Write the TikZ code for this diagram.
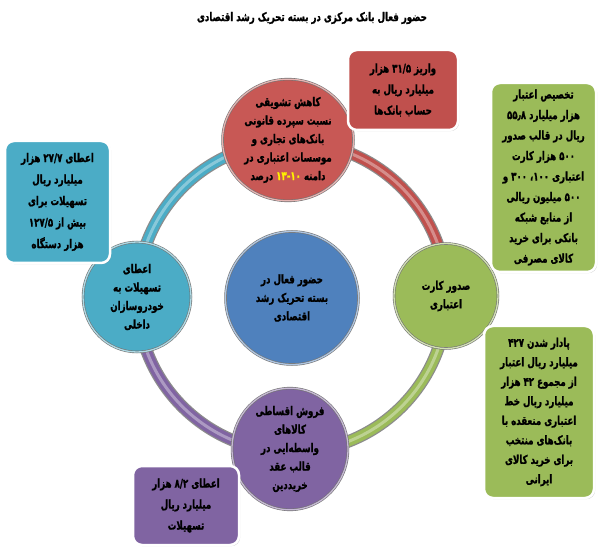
\documentclass[tikz,border=0pt]{standalone}
\usepackage{fontspec}
\usetikzlibrary{shapes.geometric,shadows}
\newfontfamily\fa[Script=Arabic, FakeStretch=0.72, FakeBold=1.2]{DejaVu Sans Bold}
\TeXXeTstate=1
\newcommand\rtl[1]{\beginR #1\endR}
\newcommand\ltr[1]{\beginL #1\endL}
\definecolor{cred}{RGB}{192,80,77}
\definecolor{credc}{RGB}{200,88,85}
\definecolor{cgreen}{RGB}{155,187,89}
\definecolor{ccyan}{RGB}{75,172,198}
\definecolor{cpurple}{RGB}{128,100,162}
\definecolor{cblue}{RGB}{79,129,189}
\tikzset{
  txt/.style={font=\fa\fontsize{12}{21}\selectfont, align=center, text=black},
  box/.style={txt, rectangle, rounded corners=9pt, draw=white, line width=2.5pt, inner sep=0pt,
    fill=#1, drop shadow={opacity=0.35, shadow xshift=1.2pt, shadow yshift=-1.2pt}},
  circ/.style={txt, font=\fa\fontsize{12}{18.5}\selectfont, ellipse, inner sep=0pt,
    fill=#1, draw=black!55, line width=0.6pt, double=#1!45!white, double distance=1.3pt},
  ringout/.style={line width=12.5pt, draw=black!45},
  ringin/.style={line width=10pt, draw=#1},
  ringhi/.style={line width=3pt, draw=white, opacity=0.35},
}
\begin{document}
\begin{tikzpicture}[x=1pt,y=-1pt]
\useasboundingbox (0,0) rectangle (600,553);
\fill[white] (0,0) rectangle (600,553);
\node[txt, font=\fa\fontsize{12}{14}\selectfont] (title) at (312,18)
  {\rtl{حضور فعال بانک مرکزی در بسته تحریک رشد اقتصادی}};
% ring
\coordinate (rc) at (292,297);
\foreach \a/\b/\c in {-90/0/cred, 0/90/cgreen, 90/180/cpurple, 180/270/ccyan}{
  \draw[ringout] (rc) ++(\a:155) arc[start angle=\a, end angle=\b, radius=155];
  \draw[ringin=\c] (rc) ++(\a:155) arc[start angle=\a, end angle=\b, radius=155];
  \draw[ringhi] (rc) ++(\a:155) arc[start angle=\a, end angle=\b, radius=155];
}
% circles
\node[circ=credc, minimum width=131, minimum height=98] (redc) at (288,140)
  {\rtl{کاهش تشویقی}\\\rtl{نسبت سپرده قانونی}\\\rtl{بانک‌های تجاری و}\\\rtl{موسسات اعتباری در}\\\rtl{درصد} \textcolor{yellow}{۱۳\kern0pt-\kern0pt۱۰} \rtl{دامنه}};
\node[circ=cblue, minimum width=133, minimum height=133] (bluec) at (292,298)
  {\rtl{حضور فعال در}\\\rtl{بسته تحریک رشد}\\\rtl{اقتصادی}};
\node[circ=ccyan, minimum width=108, minimum height=110] (cyanc) at (137,297)
  {\rtl{اعطای}\\\rtl{تسهیلات به}\\\rtl{خودروسازان}\\\rtl{داخلی}};
\node[circ=cgreen, minimum width=104, minimum height=105] (greenc) at (446,296)
  {\rtl{صدور کارت}\\\rtl{اعتباری}};
\node[circ=cpurple, minimum width=116, minimum height=108] (purplec) at (290,449)
  {\rtl{فروش اقساطی}\\\rtl{کالاهای}\\\rtl{واسطه‌ایی در}\\\rtl{قالب عقد}\\\rtl{خریددین}};
% boxes
\node[box=cred, minimum width=110, minimum height=80] (redbox) at (403,90)
  {\rtl{واریز \ltr{۳۱/۵} هزار}\\\rtl{میلیارد ریال به}\\\rtl{حساب بانک‌ها}};
\node[box=cgreen, minimum width=105, minimum height=189, font=\fa\fontsize{12}{20.5}\selectfont] (greenbox) at (543.5,177.5)
  {\rtl{تخصیص اعتبار}\\\rtl{هزار میلیارد \ltr{۵۵٫۸}}\\\rtl{ریال در قالب صدور}\\\rtl{\ltr{۵۰۰} هزار کارت}\\\rtl{اعتباری ۱۰۰، ۳۰۰ و}\\\rtl{\ltr{۵۰۰} میلیون ریالی}\\\rtl{از منابع شبکه}\\\rtl{بانکی برای خرید}\\\rtl{کالای مصرفی}};
\node[box=ccyan, minimum width=105, minimum height=122, font=\fa\fontsize{12}{21.5}\selectfont] (cyanbox) at (57.5,202)
  {\rtl{اعطای \ltr{۲۷/۷} هزار}\\\rtl{میلیارد ریال}\\\rtl{تسهیلات برای}\\\rtl{بیش از \ltr{۱۲۷/۵}}\\\rtl{هزار دستگاه}};
\node[box=cgreen, minimum width=110, minimum height=172, font=\fa\fontsize{12}{19.5}\selectfont] (greenbox2) at (539,412)
  {\rtl{پادار شدن \ltr{۴۲۷}}\\\rtl{میلیارد ریال اعتبار}\\\rtl{از مجموع \ltr{۴۲} هزار}\\\rtl{میلیارد ریال خط}\\\rtl{اعتباری منعقده با}\\\rtl{بانک‌های منتخب}\\\rtl{برای خرید کالای}\\\rtl{ایرانی}};
\node[box=cpurple, minimum width=106, minimum height=79] (purplebox) at (186,505.5)
  {\rtl{اعطای \ltr{۸/۲} هزار}\\\rtl{میلیارد ریال}\\\rtl{تسهیلات}};
\end{tikzpicture}
\end{document}
